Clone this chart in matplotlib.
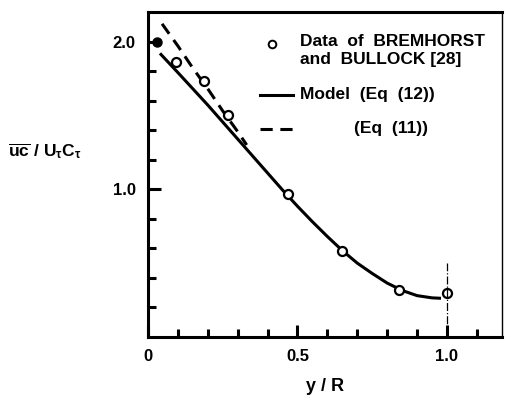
import matplotlib
matplotlib.use('Agg')
import matplotlib.pyplot as plt
import numpy as np

plt.rcParams['font.family'] = ['Liberation Sans', 'DejaVu Sans']
plt.rcParams['font.weight'] = 'bold'
plt.rcParams['mathtext.fontset'] = 'custom'
plt.rcParams['mathtext.rm'] = 'Liberation Sans:bold'
plt.rcParams['mathtext.bf'] = 'Liberation Sans:bold'
plt.rcParams['mathtext.default'] = 'bf'

# data of Bremhorst and Bullock [28]
data_x = [0.03, 0.094, 0.187, 0.268, 0.468, 0.649, 0.839, 1.0]
data_y = [2.0, 1.86, 1.73, 1.50, 0.97, 0.58, 0.32, 0.30]

# model, Eq (12)
model_x = [0.04, 0.10, 0.15, 0.20, 0.25, 0.30, 0.35, 0.40, 0.45, 0.50,
           0.55, 0.60, 0.65, 0.70, 0.75, 0.80, 0.85, 0.90, 0.95, 0.98]
model_y = [1.92, 1.79, 1.68, 1.57, 1.455, 1.34, 1.225, 1.11, 0.995, 0.885,
           0.78, 0.68, 0.585, 0.50, 0.43, 0.365, 0.315, 0.28, 0.265, 0.262]

# Eq (11)
eq11_x = [0.047, 0.10, 0.15, 0.20, 0.25, 0.30, 0.33]
eq11_y = [2.12, 1.97, 1.82, 1.68, 1.53, 1.39, 1.30]

fig = plt.figure(figsize=(5.06, 4.07), dpi=100)
ax = fig.add_axes([0.2925, 0.172, 0.6996, 0.7985])

ax.plot(model_x, model_y, color='black', lw=2.2, solid_capstyle='butt')
ax.plot(eq11_x, eq11_y, color='black', lw=2.2, dashes=(4, 2.5))
ax.plot(data_x[1:], data_y[1:], 'o', ms=6.5, mfc='white', mec='black', mew=1.6, clip_on=False)
ax.plot(data_x[:1], data_y[:1], 'o', ms=6.5, mfc='black', mec='black', clip_on=False)
ax.plot([1.0, 1.0], [0, 0.5], color='black', lw=0.9, ls='-.')

ax.set_xlim(0, 1.184)
ax.set_ylim(0, 2.2)
ax.set_xticks([0, 0.5, 1.0])
ax.set_xticklabels(['0', '0.5', '1.0'])
ax.set_xticks(np.arange(0.1, 1.15, 0.1), minor=True)
ax.set_yticks([1.0, 2.0])
ax.set_yticklabels(['1.0', '2.0'])
ax.set_yticks([0.2, 0.4, 0.6, 0.8, 1.2, 1.4, 1.6, 1.8], minor=True)
ax.tick_params(which='both', direction='in', width=2.2, labelsize=12, pad=9)
ax.tick_params(which='major', length=9)
ax.tick_params(which='minor', length=6)
ax.tick_params(top=False, right=False, which='both')

for s in ['left', 'bottom', 'top']:
    ax.spines[s].set_linewidth(2.2)
ax.spines['right'].set_linewidth(1.0)

ax.set_xlabel('y / R', fontsize=13, fontweight='bold', labelpad=10)
fig.text(0.016, 0.63, r'$\overline{\mathrm{uc}}\;/\;\mathrm{U}_{\mathbf{\tau}}\mathrm{C}_{\mathbf{\tau}}$',
         fontsize=12.5, ha='left', va='center')

# legend drawn by hand
ax.plot([0.415], [1.985], 'o', ms=5.5, mfc='white', mec='black', mew=1.4)
ax.text(0.51, 1.94, 'Data  of  BREMHORST\nand  BULLOCK [28]', fontsize=12.5,
        fontweight='bold', va='center', ha='left', linespacing=1.2)
ax.plot([0.375, 0.485], [1.64, 1.64], color='black', lw=2.2)
ax.text(0.51, 1.64, 'Model  (Eq  (12))', fontsize=12.5, fontweight='bold', va='center')
ax.plot([0.375, 0.485], [1.41, 1.41], color='black', lw=2.2, dashes=(4, 2.5))
ax.text(0.69, 1.41, '(Eq  (11))', fontsize=12.5, fontweight='bold', va='center')

fig.savefig('out.png', dpi=100)
